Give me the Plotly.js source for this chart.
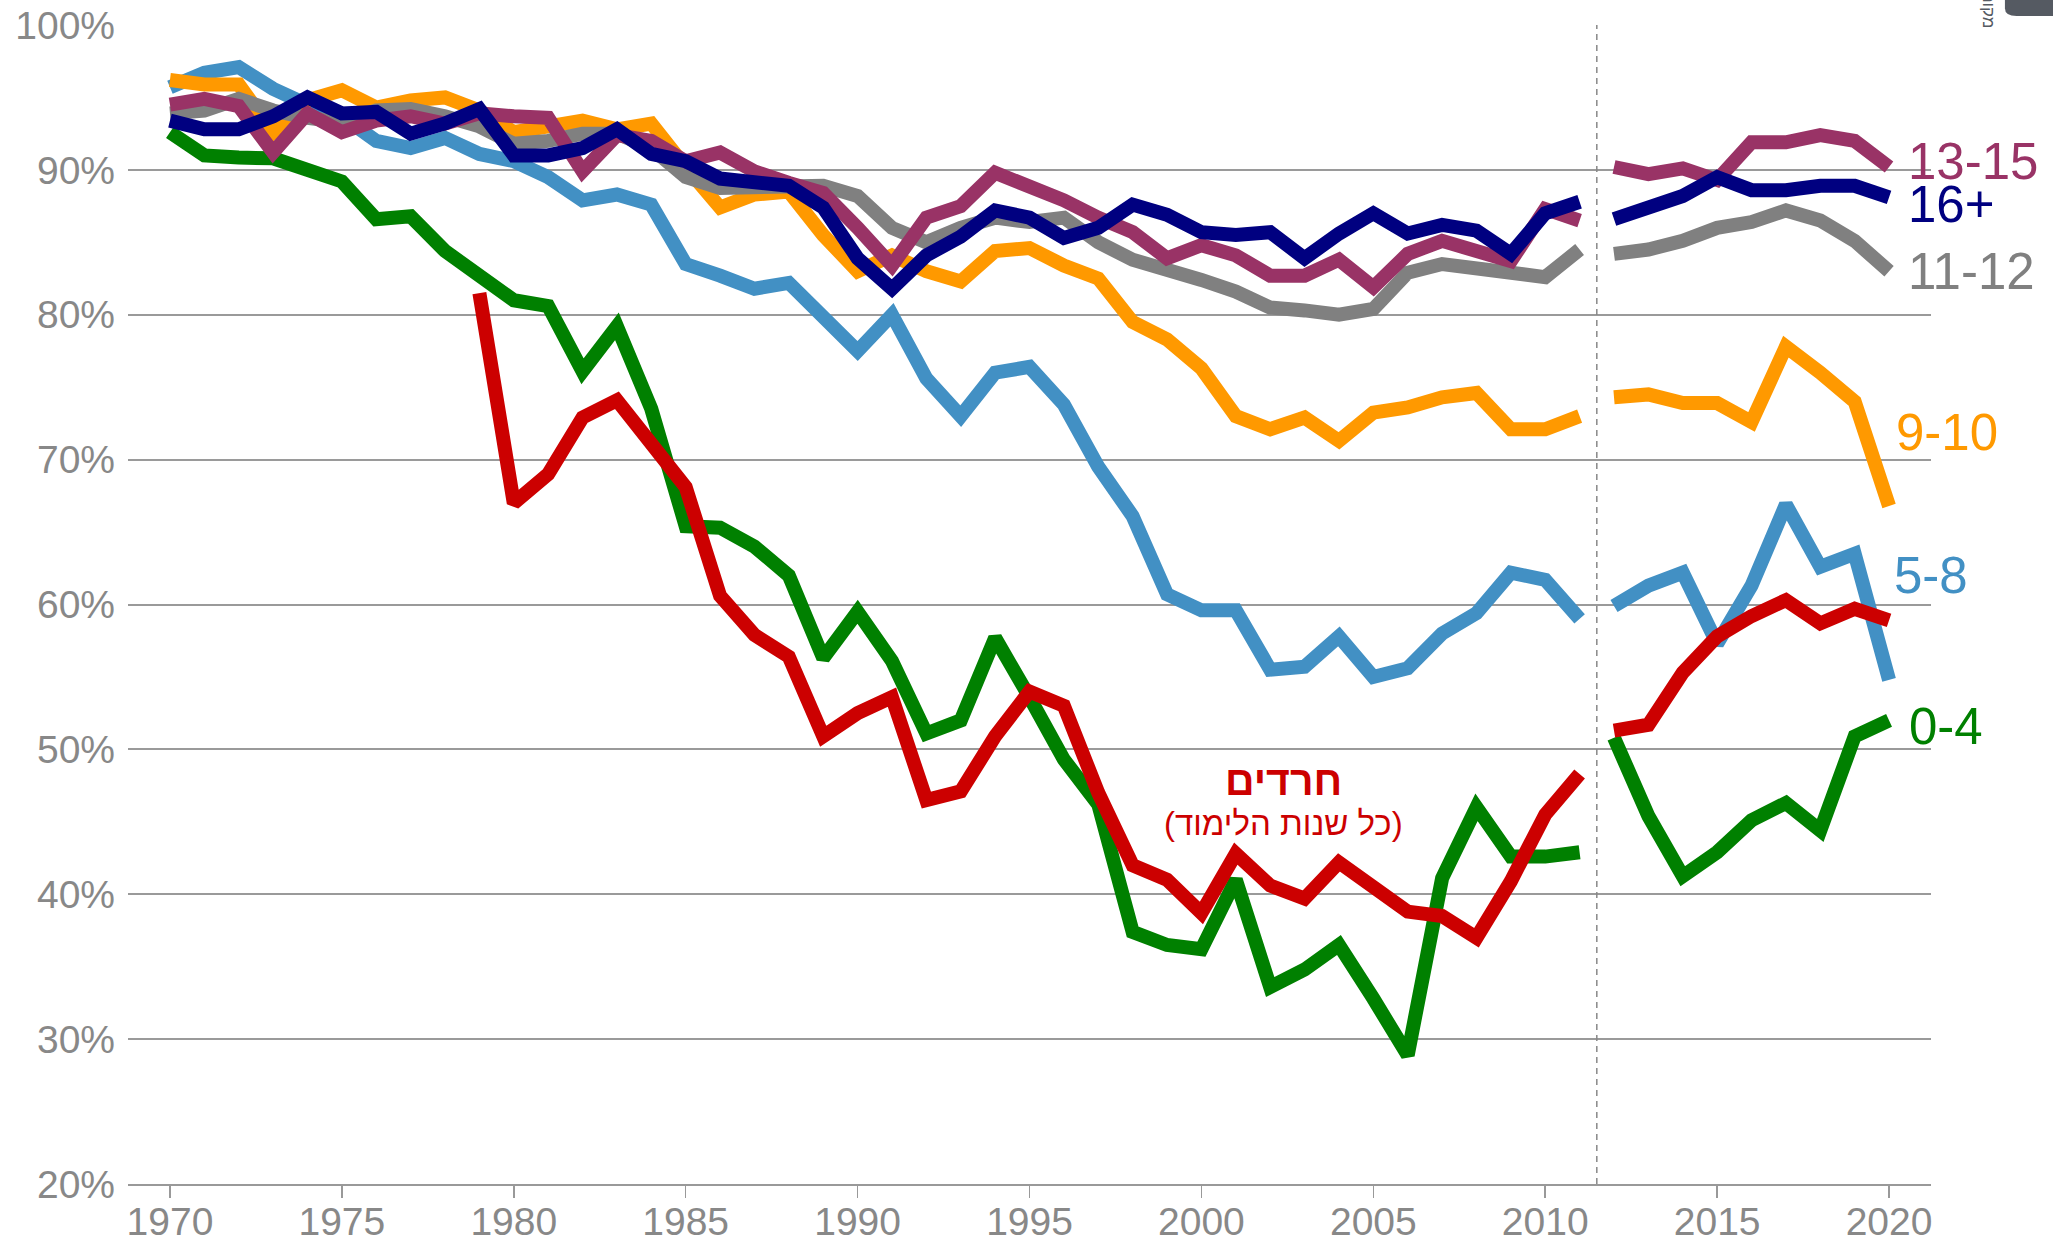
<!DOCTYPE html>
<html>
<head>
<meta charset="utf-8">
<script src="https://cdn.plot.ly/plotly-3.0.1.min.js"></script>
<style>html,body{margin:0;padding:0;background:#fff;}#chart{width:2053px;height:1243px;}</style>
</head>
<body>
<div id="chart"></div>
<script>
// Years 1970..2020
const years = [1970,1971,1972,1973,1974,1975,1976,1977,1978,1979,1980,1981,1982,1983,1984,1985,1986,1987,1988,1989,1990,1991,1992,1993,1994,1995,1996,1997,1998,1999,2000,2001,2002,2003,2004,2005,2006,2007,2008,2009,2010,2011,2012,2013,2014,2015,2016,2017,2018,2019,2020];
const breakYear = 2011.5;

const s0_4 = [92.6,91.0,90.85,90.8,90.0,89.2,86.6,86.8,84.4,82.8,81.0,80.6,76.1,79.2,73.5,65.4,65.3,64.0,62.0,56.3,59.5,56.1,51.1,52.0,57.7,53.6,49.3,46.2,37.4,36.5,36.2,41.0,33.6,34.8,36.5,32.8,28.9,41.1,46.0,42.6,42.6,42.9,50.8,45.4,41.25,42.9,45.1,46.3,44.4,50.9,52.0];
const s5_8 = [95.7,96.7,97.1,95.6,94.5,93.7,92.0,91.5,92.2,91.1,90.6,89.5,87.9,88.3,87.6,83.5,82.7,81.8,82.2,79.7,77.5,80.0,75.6,73.0,76.0,76.4,73.8,69.5,66.1,60.7,59.6,59.6,55.5,55.7,57.8,55.0,55.6,58.0,59.4,62.2,61.7,59.0,59.9,61.3,62.2,57.3,61.3,66.9,62.6,63.5,54.8];
const s9_10 = [96.2,95.9,95.9,92.6,94.8,95.5,94.3,94.8,95.0,94.1,92.6,92.9,93.4,92.8,93.2,90.2,87.4,88.3,88.5,85.5,83.0,84.1,83.0,82.3,84.4,84.6,83.4,82.5,79.5,78.3,76.3,73.0,72.1,72.9,71.3,73.25,73.6,74.3,74.6,72.1,72.1,73.0,74.3,74.5,73.9,73.9,72.6,77.8,76.0,74.0,66.8];
const s11_12 = [93.9,94.1,94.9,94.1,93.6,93.3,94.1,94.2,93.7,93.0,91.8,92.0,92.5,92.5,91.5,89.5,88.75,88.8,88.9,88.9,88.2,86.0,85.0,86.0,86.7,86.4,86.7,85.0,83.8,83.2,82.4,81.6,80.5,80.3,80.0,80.4,82.9,83.5,83.2,82.8,82.6,84.5,84.2,84.5,85.1,86.0,86.4,87.2,86.5,85.1,83.0];
const s13_15 = [94.5,94.9,94.4,91.2,93.9,92.6,93.4,93.7,93.2,93.9,93.7,93.6,89.9,92.4,92.0,90.6,91.2,89.9,89.1,88.4,86.0,83.4,86.7,87.5,89.8,88.9,87.9,86.7,85.7,83.9,84.8,84.1,82.7,82.7,83.8,81.9,84.2,85.1,84.5,83.7,87.3,86.5,90.2,89.7,90.1,89.3,91.9,91.9,92.4,92.0,90.2];
const s16p = [93.4,92.8,92.8,93.7,95.0,93.9,94.0,92.5,93.2,94.2,91.0,91.0,91.5,92.8,91.1,90.6,89.4,89.1,88.9,87.4,83.9,81.8,84.1,85.4,87.2,86.7,85.3,86.0,87.6,86.9,85.7,85.5,85.7,83.9,85.6,87.0,85.6,86.2,85.8,84.2,87.0,87.8,86.6,87.4,88.2,89.5,88.6,88.6,88.9,88.9,88.1];
const haredim = [null,null,null,null,null,null,null,null,null,81.5,67.0,69.0,72.9,74.1,71.2,68.1,60.6,57.9,56.4,50.9,52.5,53.6,46.5,47.1,50.9,54.0,53.0,47.0,42.0,41.0,38.7,42.8,40.6,39.7,42.2,40.6,38.8,38.5,37.0,40.9,45.5,48.3,51.3,51.7,55.3,57.8,59.2,60.3,58.7,59.7,58.9];

const seriesNames = ['0-4','5-8','9-10','11-12','13-15','16+','חרדים'];
const seriesColors = ['#008000','#4290c4','#ff9900','#808080','#993366','#000080','#cc0000'];
const seriesValues = [s0_4,s5_8,s9_10,s11_12,s13_15,s16p,haredim];

const yTicks = [20,30,40,50,60,70,80,90,100];
const xTicks = [1970,1975,1980,1985,1990,1995,2000,2005,2010,2015,2020];

// label positions (year, value) for end labels
const labelX = [2020.52,2020.09,2020.15,2020.5,2020.5,2020.5];
const labelY = [51.6,62.0,71.9,83.0,90.6,87.6];

const traces = [];
seriesValues.forEach((vals, i) => {
  const xa = [], ya = [], xb = [], yb = [];
  years.forEach((yr, j) => {
    if (yr < breakYear) { xa.push(yr); ya.push(vals[j]); }
    else { xb.push(yr); yb.push(vals[j]); }
  });
  [[xa,ya],[xb,yb]].forEach(([xx,yy]) => {
    traces.push({
      x: xx, y: yy, type: 'scatter', mode: 'lines', name: seriesNames[i],
      line: {color: seriesColors[i], width: 14},
      connectgaps: false, hoverinfo: 'skip', showlegend: false
    });
  });
});

const annotations = [];
for (let i = 0; i < 6; i++) {
  annotations.push({
    x: labelX[i], y: labelY[i], xref: 'x', yref: 'y', text: seriesNames[i],
    showarrow: false, xanchor: 'left', yanchor: 'middle',
    font: {family: 'Liberation Sans, Arial, sans-serif', size: 51, color: seriesColors[i]}
  });
}
annotations.push({
  x: 2002.4, y: 47.8, xref: 'x', yref: 'y', text: '<b>חרדים</b>', showarrow: false,
  xanchor: 'center', yanchor: 'middle',
  font: {family: 'Liberation Sans, Arial, sans-serif', size: 41, color: '#cc0000'}
});
annotations.push({
  x: 2002.4, y: 44.9, xref: 'x', yref: 'y', text: '(כל שנות הלימוד)', showarrow: false,
  xanchor: 'center', yanchor: 'middle',
  font: {family: 'Liberation Sans, Arial, sans-serif', size: 33, color: '#cc0000'}
});
annotations.push({
  x: 1.032, y: 1.012, xref: 'paper', yref: 'paper', text: 'מקור', showarrow: false,
  textangle: 90, xanchor: 'center', yanchor: 'middle',
  font: {family: 'Liberation Sans, Arial, sans-serif', size: 17, color: '#555a62'}
});

const layout = {
  width: 2053, height: 1243,
  margin: {l: 128, r: 122, t: 25, b: 59},
  paper_bgcolor: '#ffffff', plot_bgcolor: '#ffffff',
  font: {family: 'Liberation Sans, Arial, sans-serif', color: '#888888'},
  showlegend: false,
  xaxis: {
    range: [1968.78, 2021.22], tickvals: xTicks, ticktext: xTicks.map(String),
    showgrid: false, zeroline: false, showline: true, linecolor: '#999999', linewidth: 2,
    ticks: 'outside', ticklen: 12, tickwidth: 1.5, tickcolor: '#999999',
    ticklabelstandoff: -10,
    tickfont: {size: 39, color: '#888888'}
  },
  yaxis: {
    range: [20, 100], tickvals: yTicks, ticktext: yTicks.map(v => v + '%'),
    showgrid: true, gridcolor: '#9a9a9a', gridwidth: 2, zeroline: false, showline: false,
    ticks: '', ticklabelstandoff: 12,
    tickfont: {size: 39, color: '#888888'}
  },
  shapes: [
    {type: 'line', xref: 'x', yref: 'y', x0: breakYear, x1: breakYear, y0: 20, y1: 100,
     line: {color: '#888888', width: 1.5, dash: '6px,5px'}},
    {type: 'path', xref: 'paper', yref: 'paper',
     path: 'M 1.041 1.03 L 1.041 1.0145 Q 1.041 1.0078 1.0475 1.0078 L 1.07 1.0078 L 1.07 1.03 Z',
     fillcolor: '#555a62', line: {width: 0}}
  ],
  annotations: annotations
};

Plotly.newPlot('chart', traces, layout, {displayModeBar: false, staticPlot: true});
</script>
</body>
</html>
